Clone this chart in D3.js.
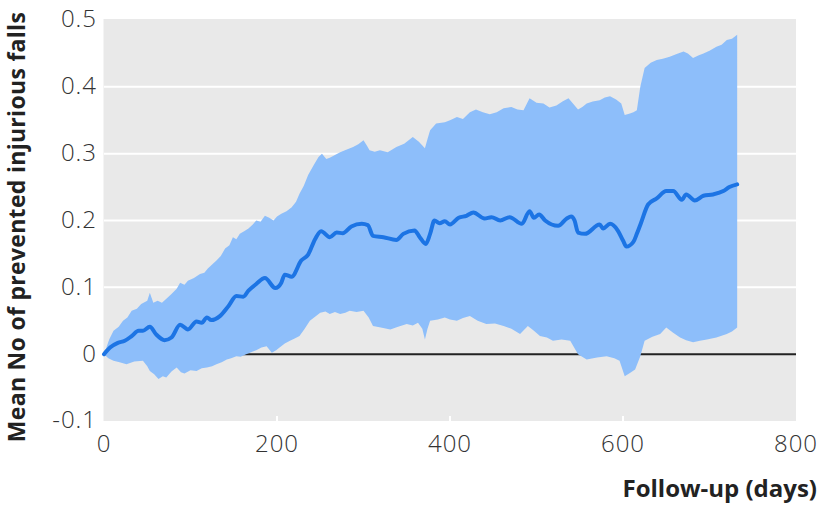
<!DOCTYPE html>
<html>
<head>
<meta charset="utf-8">
<script src="https://cdn.jsdelivr.net/npm/d3@7"></script>
<style>
  body { margin: 0; background: #fff; }
  .tick-label { font-family: "Open Sans", sans-serif; font-weight: 300; font-size: 24px; letter-spacing: 1px; fill: #333; }
  .axis-title { font-family: "Open Sans", sans-serif; font-weight: 700; font-size: 24px; fill: #222; }
</style>
</head>
<body>
<div id="chart"></div>
<script>
// mean curve (days, value)
const meanDays = [0, 7, 16, 24, 32, 40, 45, 53, 60, 70, 78, 88, 97, 107, 113, 119, 124, 134, 144, 153, 161, 167, 176, 186, 198, 205, 209, 217, 228, 236, 244, 251, 261, 269, 276, 286, 298, 305, 311, 323, 338, 346, 359, 365, 372, 377, 382, 388, 394, 400, 410, 419, 427, 440, 448, 458, 469, 483, 492, 497, 503, 510, 525, 535, 540, 544, 548, 556, 573, 577, 585, 594, 600, 604, 612, 616, 621, 629, 639, 650, 658, 668, 673, 683, 693, 704, 716, 723, 732];
const meanVals = [0, 0.010, 0.017, 0.020, 0.027, 0.035, 0.035, 0.041, 0.030, 0.021, 0.025, 0.044, 0.037, 0.049, 0.047, 0.055, 0.051, 0.057, 0.072, 0.087, 0.086, 0.095, 0.105, 0.114, 0.099, 0.107, 0.119, 0.116, 0.140, 0.149, 0.172, 0.184, 0.175, 0.182, 0.181, 0.191, 0.195, 0.193, 0.177, 0.175, 0.171, 0.180, 0.185, 0.175, 0.165, 0.180, 0.200, 0.196, 0.199, 0.194, 0.204, 0.207, 0.212, 0.203, 0.205, 0.200, 0.205, 0.195, 0.214, 0.204, 0.209, 0.200, 0.192, 0.203, 0.206, 0.200, 0.182, 0.180, 0.194, 0.188, 0.195, 0.185, 0.170, 0.161, 0.168, 0.180, 0.197, 0.224, 0.233, 0.244, 0.244, 0.231, 0.239, 0.230, 0.237, 0.239, 0.244, 0.250, 0.254];

// upper bound of interval
const upperDays = [0, 6, 11, 17, 22, 27, 32, 38, 43, 50, 53, 57, 62, 67, 73, 78, 84, 88, 93, 97, 104, 111, 116, 120, 125, 130, 135, 140, 145, 149, 153, 157, 162, 167, 172, 176, 181, 186, 191, 196, 200, 205, 211, 217, 222, 226, 231, 236, 242, 248, 252, 257, 261, 267, 273, 280, 288, 294, 300, 304, 307, 313, 319, 328, 338, 347, 357, 364, 371, 374, 377, 384, 394, 400, 408, 415, 423, 430, 438, 446, 454, 462, 471, 478, 485, 492, 500, 508, 515, 523, 530, 537, 548, 553, 558, 565, 573, 579, 585, 592, 598, 602, 608, 612, 616, 620, 625, 632, 639, 646, 654, 662, 670, 675, 681, 687, 693, 700, 708, 714, 720, 726, 732];
const upperVals = [0, 0.022, 0.035, 0.041, 0.050, 0.055, 0.065, 0.068, 0.075, 0.080, 0.092, 0.077, 0.080, 0.077, 0.084, 0.090, 0.098, 0.107, 0.104, 0.110, 0.114, 0.120, 0.122, 0.128, 0.134, 0.140, 0.147, 0.158, 0.163, 0.175, 0.172, 0.180, 0.184, 0.188, 0.194, 0.200, 0.198, 0.207, 0.204, 0.200, 0.206, 0.210, 0.214, 0.220, 0.228, 0.240, 0.252, 0.268, 0.282, 0.295, 0.300, 0.292, 0.294, 0.298, 0.302, 0.306, 0.310, 0.314, 0.320, 0.312, 0.305, 0.303, 0.305, 0.302, 0.310, 0.315, 0.325, 0.318, 0.308, 0.322, 0.335, 0.345, 0.347, 0.350, 0.355, 0.352, 0.362, 0.366, 0.362, 0.359, 0.362, 0.368, 0.370, 0.366, 0.365, 0.383, 0.376, 0.375, 0.369, 0.372, 0.378, 0.383, 0.366, 0.370, 0.375, 0.378, 0.380, 0.384, 0.386, 0.381, 0.375, 0.358, 0.360, 0.362, 0.365, 0.400, 0.428, 0.436, 0.440, 0.442, 0.445, 0.449, 0.453, 0.450, 0.443, 0.447, 0.450, 0.454, 0.460, 0.463, 0.470, 0.472, 0.478];

// lower bound of interval
const lowerDays = [0, 5, 11, 18, 26, 35, 45, 50, 53, 58, 63, 68, 72, 78, 84, 89, 93, 100, 107, 113, 119, 125, 130, 136, 142, 147, 153, 158, 163, 170, 176, 182, 188, 194, 199, 203, 209, 215, 221, 226, 232, 238, 244, 250, 256, 261, 267, 273, 279, 284, 292, 300, 306, 311, 320, 331, 340, 350, 357, 363, 368, 371, 374, 377, 386, 394, 400, 408, 415, 423, 432, 442, 452, 462, 471, 481, 490, 497, 504, 512, 519, 529, 539, 548, 558, 570, 581, 590, 596, 602, 608, 614, 620, 625, 634, 643, 650, 658, 666, 673, 681, 689, 697, 708, 720, 726, 732];
const lowerVals = [0, -0.006, -0.010, -0.012, -0.015, -0.011, -0.010, -0.018, -0.025, -0.030, -0.037, -0.033, -0.035, -0.026, -0.020, -0.027, -0.029, -0.024, -0.025, -0.021, -0.020, -0.018, -0.015, -0.012, -0.008, -0.006, -0.003, -0.004, -0.001, 0.003, 0.006, 0.010, 0.012, 0.002, 0.006, 0.010, 0.016, 0.020, 0.024, 0.027, 0.038, 0.050, 0.056, 0.062, 0.064, 0.060, 0.063, 0.060, 0.062, 0.065, 0.063, 0.065, 0.055, 0.042, 0.040, 0.037, 0.041, 0.045, 0.043, 0.047, 0.038, 0.022, 0.038, 0.050, 0.052, 0.055, 0.052, 0.050, 0.054, 0.057, 0.050, 0.045, 0.046, 0.042, 0.038, 0.030, 0.042, 0.035, 0.027, 0.025, 0.020, 0.022, 0.020, 0.000, -0.008, -0.005, -0.003, -0.006, -0.010, -0.033, -0.028, -0.023, -0.003, 0.020, 0.026, 0.030, 0.040, 0.032, 0.025, 0.021, 0.018, 0.020, 0.022, 0.025, 0.030, 0.034, 0.040];

const yTicks = [-0.1, 0, 0.1, 0.2, 0.3, 0.4, 0.5];
const xTicks = [0, 200, 400, 600, 800];

const width = 820, height = 508;
const margin = { top: 20, right: 24, bottom: 87, left: 104 };

const x = d3.scaleLinear().domain([0, 800]).range([margin.left, width - margin.right]);
const y = d3.scaleLinear().domain([-0.1, 0.5]).range([height - margin.bottom, margin.top]);

const svg = d3.select("#chart").append("svg")
    .attr("width", width)
    .attr("height", height);

// panel
svg.append("rect")
    .attr("x", x(0) - 0.5)
    .attr("y", y(0.5) - 1)
    .attr("width", x(800) - x(0) + 0.5)
    .attr("height", y(-0.1) - y(0.5) + 1)
    .attr("fill", "#e9e9e9");

// gridlines
svg.append("g")
    .selectAll("line")
    .data(yTicks.filter(d => d > 0 && d < 0.5))
    .join("line")
    .attr("x1", x(0))
    .attr("x2", x(800))
    .attr("y1", d => y(d))
    .attr("y2", d => y(d))
    .attr("stroke", "#fff")
    .attr("stroke-width", 2);

// small inside ticks at bottom
svg.append("g")
    .selectAll("line")
    .data(xTicks.filter(d => d > 0 && d < 800))
    .join("line")
    .attr("x1", d => x(d))
    .attr("x2", d => x(d))
    .attr("y1", y(-0.1))
    .attr("y2", y(-0.1) - 5)
    .attr("stroke", "#fff")
    .attr("stroke-width", 2);

// zero line
svg.append("line")
    .attr("x1", x(0))
    .attr("x2", x(800))
    .attr("y1", y(0))
    .attr("y2", y(0))
    .attr("stroke", "#222")
    .attr("stroke-width", 2);

// interval band
const upperPts = upperDays.map((d, i) => [d, upperVals[i]]);
const lowerPts = lowerDays.map((d, i) => [d, lowerVals[i]]).reverse();
const bandLine = d3.line()
    .x(d => x(d[0]))
    .y(d => y(d[1]))
    .curve(d3.curveLinear);

svg.append("path")
    .attr("d", bandLine(upperPts.concat(lowerPts)) + "Z")
    .attr("fill", "#8dbefa")
    .attr("stroke", "none");

// mean line
const meanLine = d3.line()
    .x((d, i) => x(meanDays[i]))
    .y(d => y(d))
    .curve(d3.curveMonotoneX);

svg.append("path")
    .datum(meanVals)
    .attr("d", meanLine)
    .attr("fill", "none")
    .attr("stroke", "#1c74e4")
    .attr("stroke-width", 4)
    .attr("stroke-linejoin", "round")
    .attr("stroke-linecap", "round");

// y tick labels
svg.append("g")
    .selectAll("text")
    .data(yTicks)
    .join("text")
    .attr("class", "tick-label")
    .attr("x", 97)
    .attr("y", d => y(d) - 1)
    .attr("dy", "0.35em")
    .attr("text-anchor", "end")
    .text(d => d === 0 ? "0" : d3.format(".1f")(d).replace("\u2212", "-"));

// x tick labels
svg.append("g")
    .selectAll("text")
    .data(xTicks)
    .join("text")
    .attr("class", "tick-label")
    .attr("x", d => x(d))
    .attr("y", 452)
    .attr("text-anchor", "middle")
    .text(d => d);

// axis titles
svg.append("text")
    .attr("class", "axis-title")
    .attr("x", 817)
    .attr("y", 497)
    .attr("text-anchor", "end")
    .text("Follow-up (days)");

svg.append("text")
    .attr("class", "axis-title")
    .style("font-size", "23px")
    .style("letter-spacing", "0.3px")
    .attr("transform", "translate(25,227) rotate(-90)")
    .attr("text-anchor", "middle")
    .text("Mean No of prevented injurious falls");
</script>
</body>
</html>
